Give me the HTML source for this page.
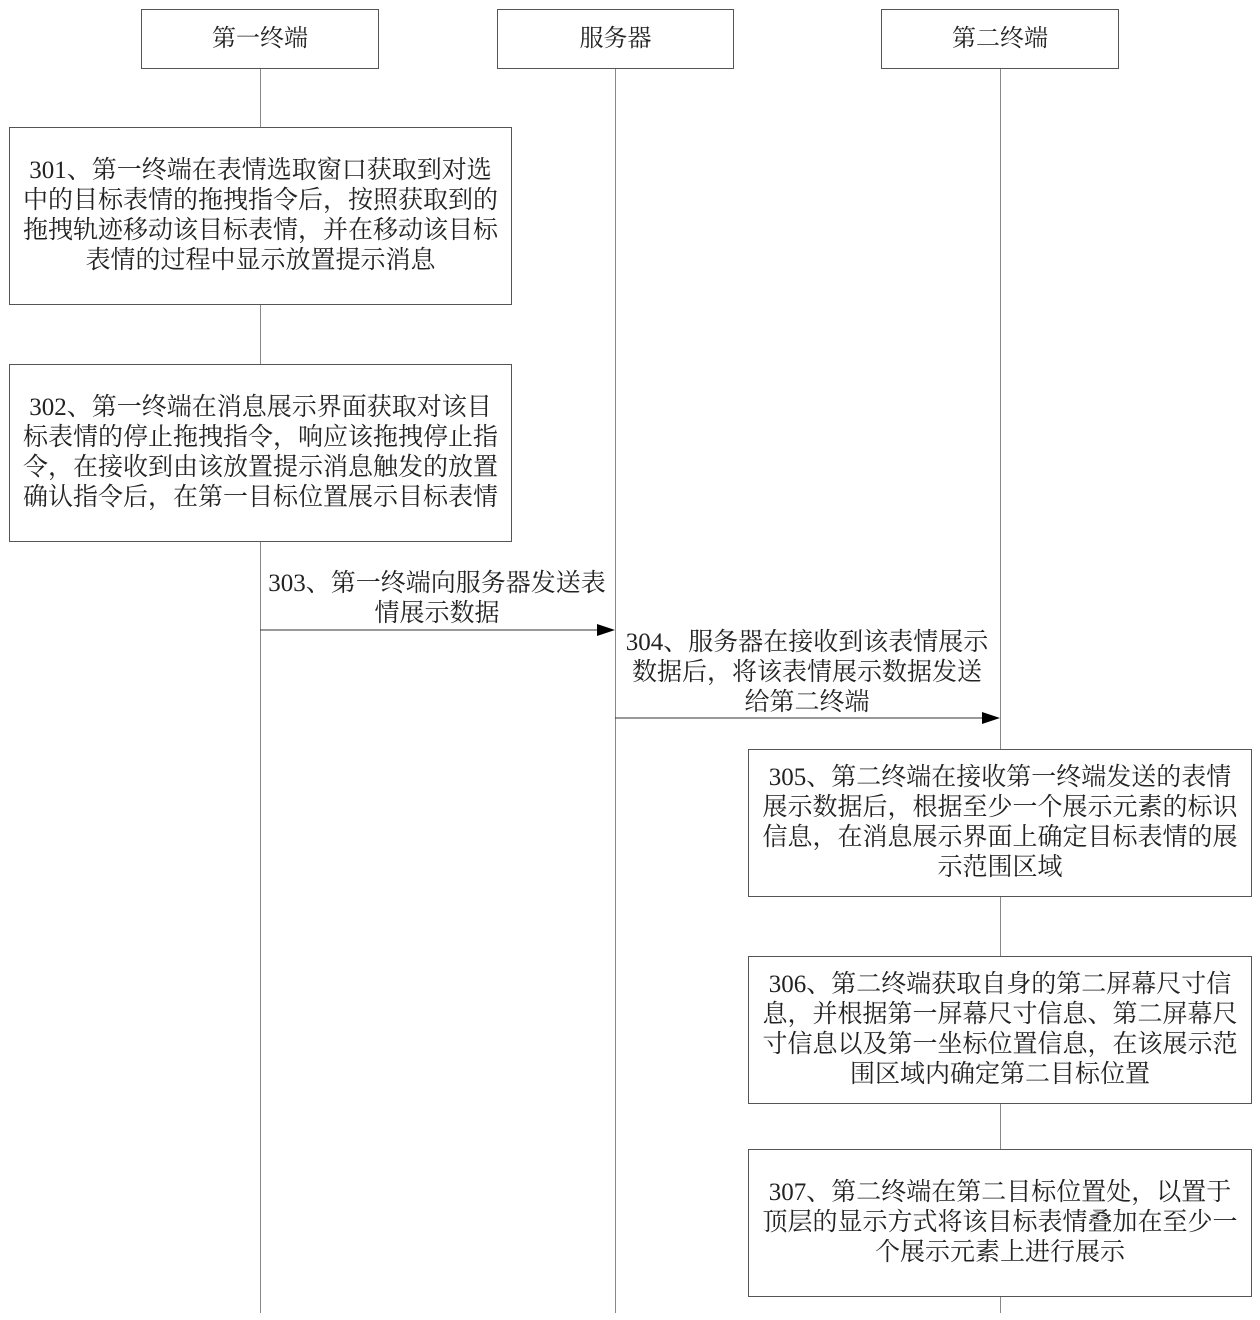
<!DOCTYPE html>
<html><head><meta charset="utf-8"><style>
body{margin:0;width:1260px;height:1320px;background:#fff;position:relative;overflow:hidden;font-family:"Liberation Serif","Noto Serif CJK SC",serif;color:#222}
.b{position:absolute;border:1px solid #555;box-sizing:border-box;display:flex;align-items:center;justify-content:center;text-align:center;font-size:25px;line-height:30px;background:#fff}
.l{position:absolute;width:1px;background:#888}
.t{position:absolute;font-size:25px;line-height:30px;text-align:center;white-space:nowrap}
</style></head><body>
<div class="l" style="left:260px;top:68px;height:1245px"></div>
<div class="l" style="left:615px;top:68px;height:1245px"></div>
<div class="l" style="left:1000px;top:68px;height:1245px"></div>

<div class="b" style="left:141px;top:9px;width:238px;height:60px;font-size:24px">第一终端</div>
<div class="b" style="left:497px;top:9px;width:237px;height:60px;font-size:24px">服务器</div>
<div class="b" style="left:881px;top:9px;width:238px;height:60px;font-size:24px">第二终端</div>

<div class="b" style="left:9px;top:127px;width:503px;height:178px">301、第一终端在表情选取窗口获取到对选<br>中的目标表情的拖拽指令后，按照获取到的<br>拖拽轨迹移动该目标表情，并在移动该目标<br>表情的过程中显示放置提示消息</div>
<div class="b" style="left:9px;top:364px;width:503px;height:178px">302、第一终端在消息展示界面获取对该目<br>标表情的停止拖拽指令，响应该拖拽停止指<br>令，在接收到由该放置提示消息触发的放置<br>确认指令后，在第一目标位置展示目标表情</div>

<div class="t" style="left:237px;width:400px;top:569px">303、第一终端向服务器发送表<br>情展示数据</div>
<svg style="position:absolute;left:0;top:0" width="1260" height="1320">
<line x1="260" y1="630" x2="600" y2="630" stroke="#333" stroke-width="1"/>
<polygon points="597,624 615,630 597,636" fill="#000"/>
<line x1="615" y1="718" x2="985" y2="718" stroke="#333" stroke-width="1"/>
<polygon points="982,712 1000,718 982,724" fill="#000"/>
</svg>
<div class="t" style="left:607px;width:400px;top:628px">304、服务器在接收到该表情展示<br>数据后，将该表情展示数据发送<br>给第二终端</div>

<div class="b" style="left:748px;top:749px;width:504px;height:148px">305、第二终端在接收第一终端发送的表情<br>展示数据后，根据至少一个展示元素的标识<br>信息，在消息展示界面上确定目标表情的展<br>示范围区域</div>
<div class="b" style="left:748px;top:956px;width:504px;height:148px">306、第二终端获取自身的第二屏幕尺寸信<br>息，并根据第一屏幕尺寸信息、第二屏幕尺<br>寸信息以及第一坐标位置信息，在该展示范<br>围区域内确定第二目标位置</div>
<div class="b" style="left:748px;top:1149px;width:504px;height:148px">307、第二终端在第二目标位置处，以置于<br>顶层的显示方式将该目标表情叠加在至少一<br>个展示元素上进行展示</div>
</body></html>
